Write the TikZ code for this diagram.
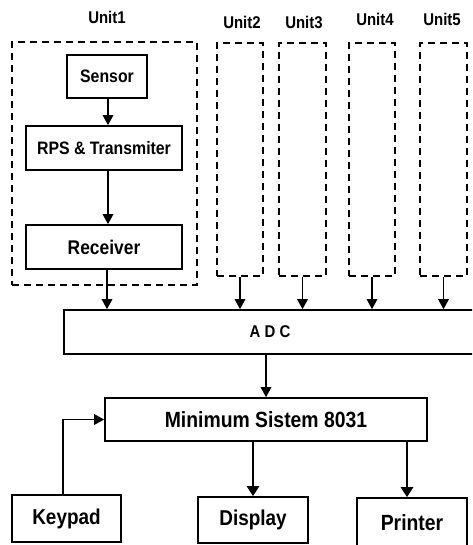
\documentclass[tikz,border=0pt]{standalone}
\usepackage{fontspec}
% narrow, tall sans-serif lettering
\setmainfont[FakeStretch=0.88]{Liberation Sans}
\usetikzlibrary{arrows.meta,calc}
\newcommand{\fsz}[1]{\fontsize{#1}{#1}\selectfont\bfseries}
\tikzset{
  blk/.style={draw, line width=1.6pt, inner sep=0pt, align=center},
  unitbox/.style={draw, line width=1.6pt, dash pattern=on 7pt off 5pt, inner sep=0pt},
  unitlbl/.style={font=\fsz{17}},
  flow/.style={line width=1.4pt, -{Triangle[length=10pt,width=10.5pt]}},
  thickflow/.style={line width=2.6pt, -{Triangle[length=10pt,width=12pt]}},
}
\begin{document}
\begin{tikzpicture}[x=1pt,y=-1pt]
\useasboundingbox (0,0) rectangle (472,545);
\clip (0,0) rectangle (472,545);

% sensor units
\node[unitbox, minimum width=185pt, minimum height=243pt] (U1) at (104.5,163.5) {};
\node[unitbox, minimum width=46pt, minimum height=233pt] (U2) at (240,159.5) {};
\node[unitbox, minimum width=47pt, minimum height=233pt] (U3) at (302.5,159.5) {};
\node[unitbox, minimum width=46pt, minimum height=233pt] (U4) at (372,159.5) {};
\node[unitbox, minimum width=47pt, minimum height=233pt] (U5) at (443.5,159.5) {};

\node[unitlbl] (L1) at (107,17.5) {Unit1};
\node[unitlbl] (L2) at (242,22) {Unit2};
\node[unitlbl] (L3) at (304,22) {Unit3};
\node[unitlbl] (L4) at (375,19.5) {Unit4};
\node[unitlbl] (L5) at (442,19.5) {Unit5};

% unit 1 chain
\node[blk, minimum width=80pt, minimum height=43pt, font=\fsz{18}] (S) at (107,76.5) {Sensor};
\node[blk, minimum width=156pt, minimum height=44pt, font=\fsz{18}] (R) at (104,148) {RPS \& Transmiter};
\node[blk, minimum width=156pt, minimum height=44pt, font=\fsz{19.8}] (Rx) at (104,247) {Receiver};

% converter and controller
\node[blk, minimum width=412pt, minimum height=44pt, font=\fsz{17}] (ADC) at (270,332) {A D C};
\node[blk, minimum width=322pt, minimum height=43pt, font=\fsz{22}] (MS) at (266,419.5) {Minimum Sistem 8031};

% peripherals
\node[blk, minimum width=109pt, minimum height=47pt, font=\fsz{21.5}] (K) at (66.5,518.5) {Keypad};
\node[blk, minimum width=110pt, minimum height=46pt, font=\fsz{21.5}] (D) at (253,520) {Display};
\node[blk, minimum width=110pt, minimum height=49pt, font=\fsz{22}] (P) at (412,522.5) {Printer};

% connectors
\draw[flow] ([xshift=1pt]S.south) -- ([xshift=1pt]S.south |- R.north);
\draw[flow] ([xshift=4pt]R.south) -- ([xshift=4pt]R.south |- Rx.north);
\draw[flow] ([xshift=3pt]Rx.south) -- ([xshift=3pt]Rx.south |- ADC.north);
\draw[flow] (U2.south) -- (U2.south |- ADC.north);
\draw[flow] (U3.south) -- (U3.south |- ADC.north);
\draw[flow] (U4.south) -- (U4.south |- ADC.north);
\draw[flow] (U5.south) -- (U5.south |- ADC.north);
\draw[flow] (MS.north |- ADC.south) -- (MS.north);
\draw[flow] ([xshift=-3.5pt]K.north) |- (MS.west);
\draw[thickflow] (D.north |- MS.south) -- (D.north);
\draw[thickflow] ([xshift=-5pt]P.north |- MS.south) -- ([xshift=-5pt]P.north);
\end{tikzpicture}
\end{document}
